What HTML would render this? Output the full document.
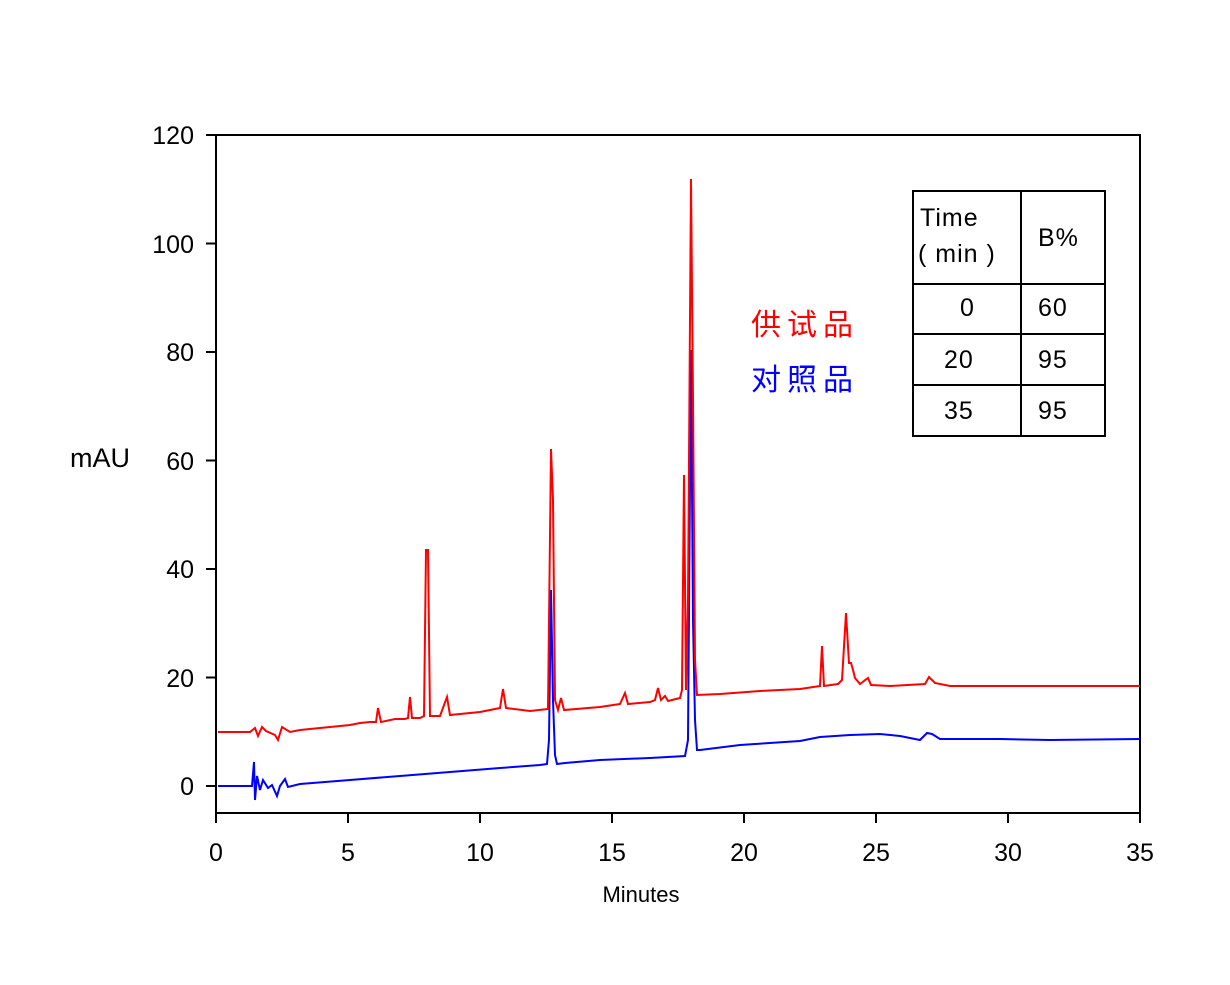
<!DOCTYPE html>
<html><head><meta charset="utf-8"><style>
body{margin:0;background:#fff}
svg text{font-family:"Liberation Sans",Arial,sans-serif}
</style></head><body>
<svg width="1230" height="980" viewBox="0 0 1230 980" xmlns="http://www.w3.org/2000/svg">
<rect x="216" y="135" width="924" height="678" fill="none" stroke="#000" stroke-width="2"/>
<g stroke="#000" stroke-width="2">
<line x1="206" y1="135" x2="216" y2="135"/><line x1="206" y1="243.5" x2="216" y2="243.5"/><line x1="206" y1="352" x2="216" y2="352"/><line x1="206" y1="460.5" x2="216" y2="460.5"/><line x1="206" y1="569" x2="216" y2="569"/><line x1="206" y1="677.5" x2="216" y2="677.5"/><line x1="206" y1="786" x2="216" y2="786"/>
<line x1="216" y1="813" x2="216" y2="823"/><line x1="348" y1="813" x2="348" y2="823"/><line x1="480" y1="813" x2="480" y2="823"/><line x1="612" y1="813" x2="612" y2="823"/><line x1="744" y1="813" x2="744" y2="823"/><line x1="876" y1="813" x2="876" y2="823"/><line x1="1008" y1="813" x2="1008" y2="823"/><line x1="1140" y1="813" x2="1140" y2="823"/>
</g>
<g font-size="25" text-anchor="end">
<text x="194" y="144">120</text><text x="194" y="253">100</text><text x="194" y="361">80</text><text x="194" y="470">60</text><text x="194" y="578">40</text><text x="194" y="687">20</text><text x="194" y="795">0</text>
</g>
<g font-size="25" text-anchor="middle">
<text x="216" y="861">0</text><text x="348" y="861">5</text><text x="480" y="861">10</text><text x="612" y="861">15</text><text x="744" y="861">20</text><text x="876" y="861">25</text><text x="1008" y="861">30</text><text x="1140" y="861">35</text>
</g>
<text x="641" y="902" font-size="22" text-anchor="middle">Minutes</text>
<text x="70" y="467" font-size="27">mAU</text>
<polyline fill="none" stroke="#00f" stroke-width="2" points="218,786 250,786 252,786 254,762 255,800 257,776 260,790 263,780 268,788 272,785 277,796 280,786 285,779 288,787 300,784 350,780 400,776 450,772 500,768 540,765 547,764 549,740 551,590 553,700 555,755 557,764 565,763 600,760 650,758 685,756 688,740 691,350 693,620 695,720 697,750 700,750 740,745 800,741 820,737 850,735 880,734 900,736 920,740 927,733 932,734 940,739 1000,739 1050,740 1140,739"/>
<polyline fill="none" stroke="#f00" stroke-width="2" points="218,732 250,732 255,728 258,736 262,727 266,731 275,735 278,740 282,727 290,732 300,730 330,727 350,725 360,723 370,722 376,722 378,708 381,722 395,719 405,719 408,718 410,697 412,718 420,718 424,716 426,550 428,550 430,716 440,716 447,697 450,715 480,712 500,708 503,689 506,708 530,711 548,709 551,449 553,500 555,700 558,710 561,698 564,710 600,707 620,704 625,693 628,704 650,702 655,700 658,688 661,700 665,696 668,701 680,698 682,690 684,475 686,690 688,600 691,179 693,400 695,660 697,695 720,694 760,691 800,689 820,686 822,646 824,686 838,684 842,680 846,613 849,663 851,663 853,670 855,678 860,684 868,678 871,685 890,686 925,684 929,677 935,683 950,686 1000,686 1140,686"/>
<text x="751" y="335" font-size="30" fill="#f00" font-family="'Liberation Serif','Noto Serif CJK SC',serif" letter-spacing="6">供试品</text>
<text x="751" y="390" font-size="30" fill="#00f" font-family="'Liberation Serif','Noto Serif CJK SC',serif" letter-spacing="6">对照品</text>
<g fill="none" stroke="#000" stroke-width="2">
<rect x="913" y="191" width="192" height="245"/>
<line x1="1021" y1="191" x2="1021" y2="436"/>
<line x1="913" y1="284" x2="1105" y2="284"/><line x1="913" y1="334" x2="1105" y2="334"/><line x1="913" y1="385" x2="1105" y2="385"/>
</g>
<g font-size="25" letter-spacing="1">
<text x="920" y="226">Time</text><text x="918" y="262">( min )</text><text x="1038" y="246">B%</text>
<text x="960" y="316">0</text><text x="1038" y="316">60</text>
<text x="944" y="368">20</text><text x="1038" y="368">95</text>
<text x="944" y="419">35</text><text x="1038" y="419">95</text>
</g>
</svg>
</body></html>
